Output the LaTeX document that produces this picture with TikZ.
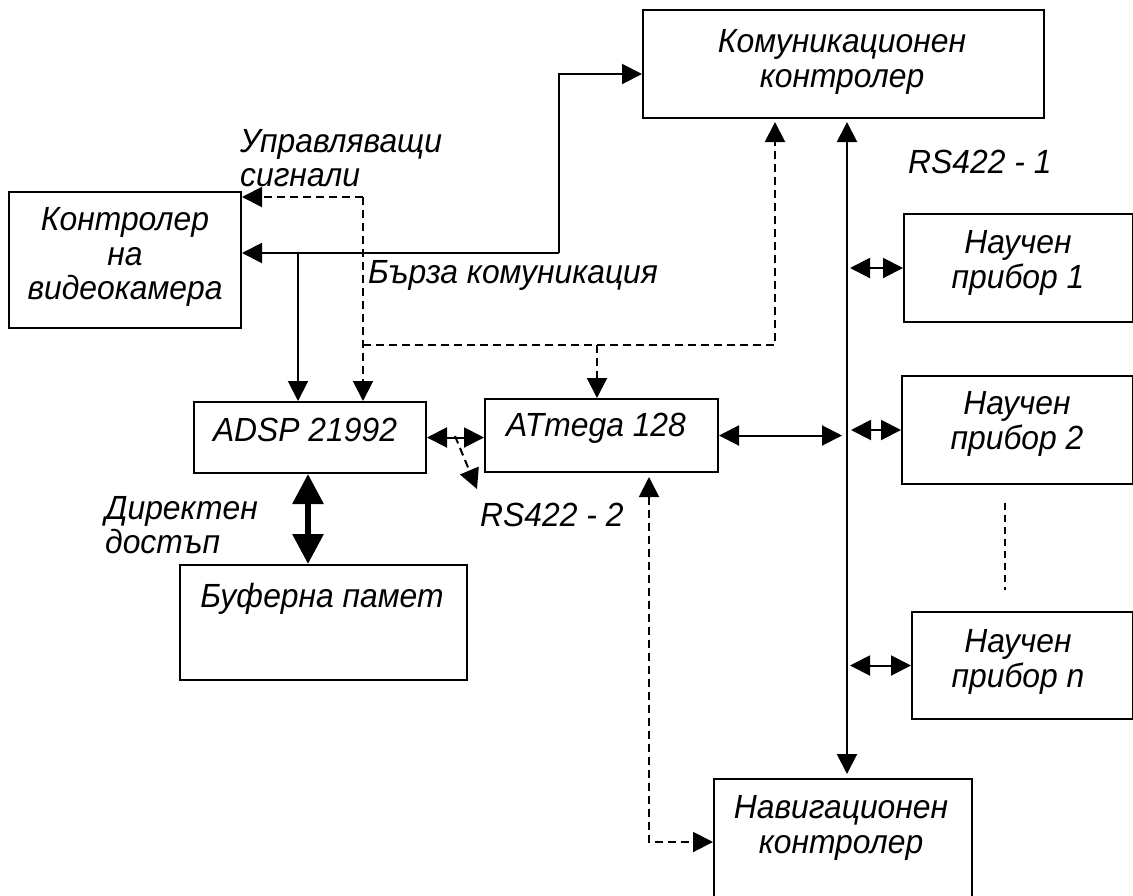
\documentclass[tikz,border=0pt]{standalone}
\usepackage{fontspec}
\setmainfont{Liberation Sans}[FakeStretch=0.95]
\usetikzlibrary{arrows.meta,calc}
\begin{document}
\begin{tikzpicture}[x=1pt,y=-1pt,
  box/.style={draw,line width=2pt,rectangle,inner sep=0pt,anchor=north west},
  txt/.style={font=\fontsize{33.5}{34.5}\selectfont\itshape,align=center,inner sep=0pt},
  ln/.style={line width=2pt},
  arr/.style={ln,-{Triangle[length=20pt,width=20pt]}},
  darr/.style={ln,{Triangle[length=20pt,width=20pt]}-{Triangle[length=20pt,width=20pt]}},
  dsh/.style={dash pattern=on 8pt off 5pt},
  bigarr/.style={line width=6pt,{Triangle[length=30pt,width=30pt]}-{Triangle[length=30pt,width=30pt]}}]
\clip (0,0) rectangle (1133,895);
\fill[white] (0,0) rectangle (1133,895);
% boxes
\node[box,minimum width=401pt,minimum height=108pt] (kk) at (642,9) {};
\node[box,minimum width=232pt,minimum height=136pt] (kv) at (8,191) {};
\node[box,minimum width=232pt,minimum height=71pt] (adsp) at (193,401) {};
\node[box,minimum width=233pt,minimum height=73pt] (at) at (484,398) {};
\node[box,minimum width=287pt,minimum height=115pt] (buf) at (179,564) {};
\node[box,minimum width=229pt,minimum height=108pt] (n1) at (903,213) {};
\node[box,minimum width=231pt,minimum height=108pt] (n2) at (901,375) {};
\node[box,minimum width=221pt,minimum height=107pt] (nn) at (911,611) {};
\node[box,minimum width=258pt,minimum height=140pt] (nav) at (713,778) {};
% texts
\node[txt] (tkk) at (842,62) {Комуникационен\\контролер};
\node[txt] (tkv) at (125,257) {Контролер\\на\\видеокамера};
\node[txt] (tadsp) at (305,430) {ADSP 21992};
\node[txt] (tat) at (596,428) {ATmega 128};
\node[txt] (tbuf) at (322,599) {Буферна памет};
\node[txt] (tn1) at (1018,263) {Научен\\прибор 1};
\node[txt] (tn2) at (1017,424) {Научен\\прибор 2};
\node[txt] (tnn) at (1018,662) {Научен\\прибор n};
\node[txt] (tnav) at (841,828) {Навигационен\\контролер};
\node[txt,align=left,anchor=west] (lupr) at (240,158) {Управляващи\\сигнали};
\node[txt,anchor=west] (lbk) at (368,275) {Бърза комуникация};
\node[txt,anchor=west] (lrs1) at (908,162) {RS422 - 1};
\node[txt,anchor=west] (lrs2) at (480,515) {RS422 - 2};
\node[txt,align=left,anchor=west] (ldir) at (105,525) {Директен\\достъп};
% coordinates
\coordinate (j1) at (559,253);
\coordinate (j2) at (298,253);
\coordinate (d1) at (363,197);
\coordinate (d2) at (363,345);
\coordinate (d3) at (775,345);
\coordinate (d4) at (597,345);
\coordinate (d5) at (455,436);
\coordinate (d6) at (477,489);
\coordinate (d7) at (649,842);
\coordinate (bus) at (847,0);
\coordinate (v1) at (1005,503);
\coordinate (v2) at (1005,590);
% solid connectors
\draw[arr] (j1) |- ([yshift=-10pt]kk.west);
\draw[arr] (j1) -- (kv.east |- j1);
\draw[arr] (j2) -- (j2 |- adsp.north);
\draw[darr] (adsp.east) -- (adsp.east -| at.west);
\draw[darr,shorten >=5pt] (at.east) -- (bus |- at.east);
\draw[darr,shorten <=3pt,shorten >=4pt] (bus |- kk.south) -- (bus |- nav.north);
\draw[darr,shorten <=3pt] (bus |- n1.west) -- (n1.west);
\draw[darr,shorten <=4pt] (bus |- n2.west) -- (n2.west);
\draw[darr,shorten <=3pt] (bus |- nn.west) -- (nn.west);
\draw[bigarr] (adsp.south -| 308,0) -- (buf.north -| 308,0);
% dashed connectors
\draw[arr,dsh] (d1) -- (kv.east |- d1);
\draw[arr,dsh] (d1) -- (d1 |- adsp.north);
\draw[arr,dsh,shorten >=3pt] (d2) -- (d3) -- (d3 |- kk.south);
\draw[arr,dsh] (d4) -- (d4 |- at.north);
\draw[arr,dsh] (d5) -- (d6);
\draw[darr,dsh,shorten <=4pt] (d7 |- at.south) -- (d7) -- (nav.west |- d7);
\draw[ln,dash pattern=on 7pt off 5pt] (v1) -- (v2);
\end{tikzpicture}
\end{document}
